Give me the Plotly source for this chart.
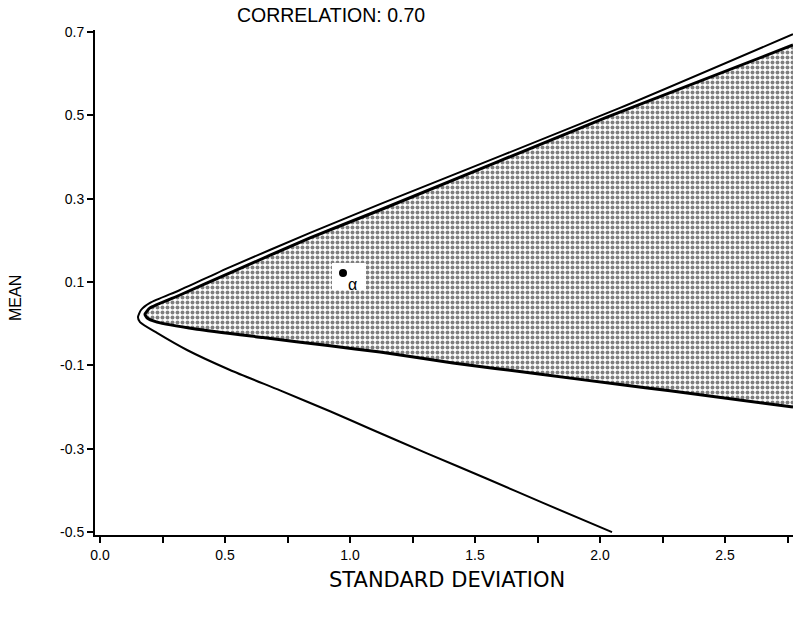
import plotly.graph_objects as go

# Outer frontier (standard deviation, mean)
outer_sd = [2.772, 2.08, 1.12, 0.84, 0.52, 0.32, 0.20, 0.164, 0.152, 0.16, 0.228,
            0.348, 0.52, 0.72, 0.92, 1.08, 1.308, 1.548, 1.772, 2.048]
outer_mean = [0.695, 0.518, 0.287, 0.218, 0.136, 0.081, 0.050, 0.033, 0.016, 0.004, -0.022,
              -0.063, -0.111, -0.160, -0.210, -0.252, -0.311, -0.372, -0.430, -0.500]

# Shaded (feasible) region boundary
inner_sd = [2.772, 2.028, 1.12, 0.84, 0.52, 0.32, 0.20, 0.18, 0.188, 0.228, 0.388,
            0.652, 0.92, 1.12, 1.412, 1.748, 2.08, 2.28, 2.772]
inner_mean = [0.669, 0.496, 0.273, 0.206, 0.122, 0.069, 0.038, 0.023, 0.014, 0.004, -0.013,
              -0.033, -0.053, -0.068, -0.094, -0.120, -0.146, -0.161, -0.200]

# Point alpha
alpha_sd = [0.972]
alpha_mean = [0.122]
alpha_label = ["α"]

x_tickvals = [0.0, 0.5, 1.0, 1.5, 2.0, 2.5]
x_ticktext = ["0.0", "0.5", "1.0", "1.5", "2.0", "2.5"]
y_tickvals = [-0.5, -0.3, -0.1, 0.1, 0.3, 0.5, 0.7]
y_ticktext = ["-0.5", "-0.3", "-0.1", "0.1", "0.3", "0.5", "0.7"]

title_text = "CORRELATION: 0.70"
x_title = "STANDARD DEVIATION"
y_title = "MEAN"

FONT = "Liberation Sans, Arial, sans-serif"

fig = go.Figure()

# shaded region
fig.add_trace(go.Scatter(
    x=inner_sd, y=inner_mean, mode="lines", fill="toself",
    fillcolor="white",
    fillpattern=dict(shape=".", fgcolor="black", bgcolor="white", size=5, solidity=0.5),
    line=dict(color="black", width=3, shape="spline", smoothing=0.5),
    hoverinfo="skip", showlegend=False))

# outer frontier
fig.add_trace(go.Scatter(
    x=outer_sd, y=outer_mean, mode="lines",
    line=dict(color="black", width=2, shape="spline", smoothing=0.6),
    hoverinfo="skip", showlegend=False))

# white box behind alpha
bx0, bx1 = alpha_sd[0] - 0.044, alpha_sd[0] + 0.092
by0, by1 = alpha_mean[0] - 0.041, alpha_mean[0] + 0.024
fig.add_trace(go.Scatter(
    x=[bx0, bx1, bx1, bx0, bx0], y=[by0, by0, by1, by1, by0], mode="lines",
    fill="toself", fillcolor="white", line=dict(color="white", width=0),
    hoverinfo="skip", showlegend=False))

fig.add_trace(go.Scatter(
    x=alpha_sd, y=alpha_mean, mode="markers",
    marker=dict(color="black", size=8), hoverinfo="skip", showlegend=False))

fig.add_annotation(x=alpha_sd[0], y=alpha_mean[0], text=alpha_label[0], showarrow=False,
                   xanchor="left", yanchor="top", xshift=3, yshift=-1,
                   font=dict(family=FONT, size=16, color="black"))

fig.add_annotation(xref="paper", yref="paper", x=(447 - 95) / 698, y=(535 - 580) / 505,
                   text=x_title, showarrow=False, xanchor="center", yanchor="middle",
                   font=dict(family="DejaVu Sans, sans-serif", size=21, color="black"))
fig.add_annotation(xref="paper", yref="paper", x=(15 - 95) / 698, y=(535 - 298) / 505,
                   text=y_title, showarrow=False, textangle=-90, xanchor="center", yanchor="middle",
                   font=dict(family=FONT, size=16, color="black"))

fig.update_layout(
    width=801, height=630,
    margin=dict(l=95, r=8, t=30, b=95),
    paper_bgcolor="white", plot_bgcolor="white",
    title=dict(text=title_text, xref="container", yref="container",
               x=331 / 801, y=1 - 15 / 630, xanchor="center", yanchor="middle",
               font=dict(family=FONT, size=19.5, color="black")),
    font=dict(family=FONT, size=14, color="black"),
)

fig.update_xaxes(range=[-0.02, 2.772], showgrid=False, zeroline=False,
                 showline=True, linecolor="black", linewidth=2,
                 tickvals=x_tickvals, ticktext=x_ticktext,
                 ticks="outside", ticklen=6, tickwidth=1.5, tickcolor="black",
                 minor=dict(dtick=0.25, tick0=0, ticks="outside", ticklen=6, tickwidth=1.5,
                            tickcolor="black", showgrid=False),
                 tickfont=dict(family=FONT, size=14, color="black"))
fig.update_yaxes(range=[-0.507, 0.705], showgrid=False, zeroline=False,
                 showline=True, linecolor="black", linewidth=2,
                 tickvals=y_tickvals, ticktext=y_ticktext,
                 ticks="outside", ticklen=6, tickwidth=1.5, tickcolor="black",
                 tickfont=dict(family=FONT, size=14, color="black"))

fig.write_html("out.html")
